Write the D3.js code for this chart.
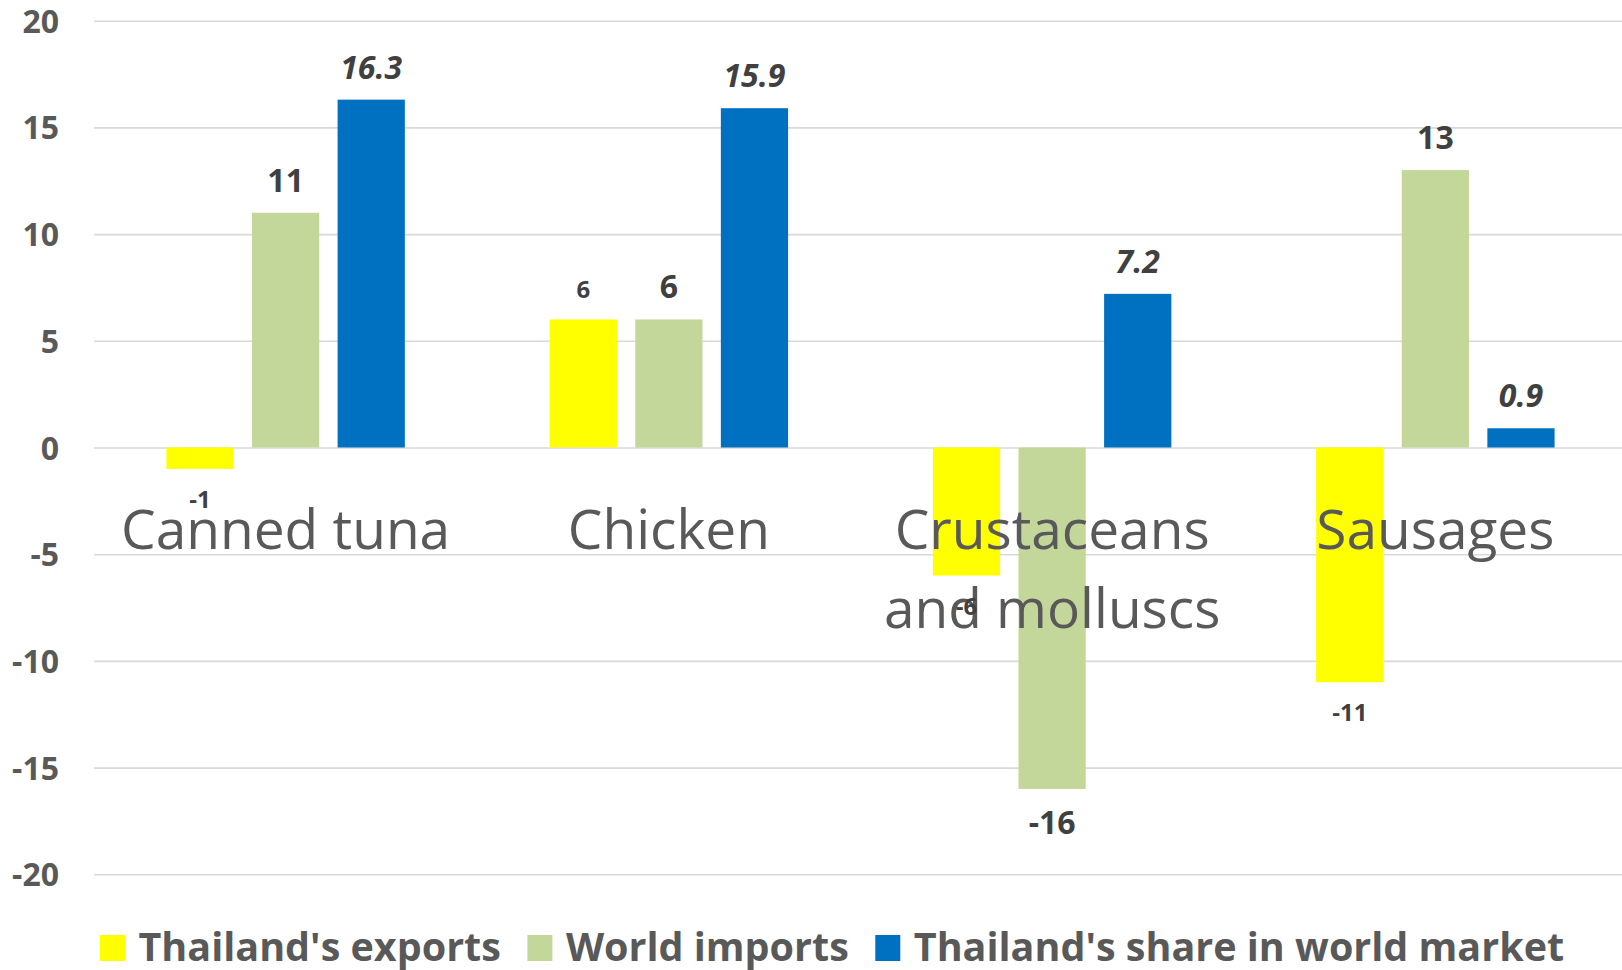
<!DOCTYPE html>
<html>
<head>
<meta charset="utf-8">
<script src="https://cdn.jsdelivr.net/npm/d3@7"></script>
<style>
  html, body { margin: 0; padding: 0; background: #ffffff; }
  svg { display: block; }
</style>
</head>
<body>
<svg id="chart" width="1622" height="970"></svg>
<script>
// Product categories and the three series (percent change)
const categories = ["Canned tuna", "Chicken", "Crustaceans and molluscs", "Sausages"];
const seriesNames = ["Thailand's exports", "World imports", "Thailand's share in world market"];
const thailandExports = [-1, 6, -6, -11];
const worldImports = [11, 6, -16, 13];
const thailandShare = [16.3, 15.9, 7.2, 0.9];
const yTicks = [-20, -15, -10, -5, 0, 5, 10, 15, 20];

const seriesValues = [thailandExports, worldImports, thailandShare];
const colors = ["#FFFF00", "#C4D79B", "#0070C0"];
const labelStyle = [
  { size: 24, italic: false },
  { size: 32, italic: false },
  { size: 32, italic: true }
];

const W = 1622, H = 970;
const plot = { left: 94, right: 1627, top: 20.7, bottom: 874.3 };
const svg = d3.select("#chart");

const y = d3.scaleLinear().domain([-20, 20]).range([plot.bottom, plot.top]);
const x0 = d3.scaleBand().domain(categories).range([plot.left, plot.right]).padding(0);
const x1 = d3.scaleBand().domain(seriesNames).range([0, x0.bandwidth()])
  .paddingInner(0.2145).paddingOuter(0.846);

const FONT = "'Open Sans', 'Noto Sans', sans-serif";

// Horizontal gridlines
const grid = svg.append("g")
  .attr("transform", `translate(${plot.left},0)`)
  .call(d3.axisLeft(y).tickValues(yTicks).tickSize(-(W - plot.left)).tickFormat(""));
grid.select(".domain").remove();
grid.selectAll(".tick line").attr("stroke", "#D9D9D9").attr("stroke-width", 1.6);

// Y-axis tick labels
const yAxis = svg.append("g")
  .attr("transform", `translate(59,0)`)
  .call(d3.axisLeft(y).tickValues(yTicks).tickSize(0).tickPadding(0)
    .tickFormat(d => String(d)));
yAxis.select(".domain").remove();
yAxis.selectAll(".tick text")
  .attr("font-family", FONT)
  .attr("font-weight", "bold")
  .attr("font-size", 32)
  .attr("fill", "#595959")
  .attr("dy", "0.36em");

// Bars
const rows = [];
categories.forEach((c, i) => {
  seriesNames.forEach((s, j) => {
    rows.push({ cat: c, series: s, j, value: seriesValues[j][i] });
  });
});

const bars = svg.append("g");
bars.selectAll("rect")
  .data(rows)
  .join("rect")
  .attr("x", d => x0(d.cat) + x1(d.series))
  .attr("width", x1.bandwidth())
  .attr("y", d => y(Math.max(0, d.value)))
  .attr("height", d => Math.abs(y(d.value) - y(0)))
  .attr("fill", d => colors[d.j]);

// Category labels (wrapped when too wide for the band)
const catG = svg.append("g");
const maxLabelW = 360;
categories.forEach(c => {
  const t = catG.append("text")
    .attr("font-family", FONT)
    .attr("font-size", 55)
    .attr("fill", "#595959")
    .attr("text-anchor", "middle");
  const words = c.split(" ");
  let lines = [], line = [];
  const probe = catG.append("text").attr("font-family", FONT).attr("font-size", 55);
  words.forEach(w => {
    const trial = line.concat(w).join(" ");
    probe.text(trial);
    if (line.length && probe.node().getComputedTextLength() > maxLabelW) {
      lines.push(line.join(" "));
      line = [w];
    } else {
      line.push(w);
    }
  });
  lines.push(line.join(" "));
  probe.remove();
  const cx = x0(c) + x0.bandwidth() / 2;
  lines.forEach((ln, k) => {
    t.append("tspan").attr("x", cx).attr("y", y(0) + 101 + k * 79).text(ln);
  });
});

// Data labels
const labels = svg.append("g");
labels.selectAll("text")
  .data(rows)
  .join("text")
  .attr("x", d => x0(d.cat) + x1(d.series) + x1.bandwidth() / 2)
  .attr("y", d => {
    const st = labelStyle[d.j];
    return d.value >= 0 ? y(d.value) - 21 : y(d.value) + 22 + st.size * 0.714;
  })
  .attr("text-anchor", "middle")
  .attr("font-family", FONT)
  .attr("font-weight", "bold")
  .attr("font-style", d => labelStyle[d.j].italic ? "italic" : "normal")
  .attr("font-size", d => labelStyle[d.j].size)
  .attr("fill", "#404040")
  .text(d => String(d.value));

// Legend
const legend = svg.append("g");
let lx = 100;
seriesNames.forEach((s, j) => {
  legend.append("rect")
    .attr("x", lx).attr("y", 935).attr("width", 25).attr("height", 26)
    .attr("fill", colors[j]);
  const t = legend.append("text")
    .attr("x", lx + 38.5).attr("y", 961)
    .attr("font-family", FONT)
    .attr("font-weight", "bold")
    .attr("font-size", 39.5)
    .attr("fill", "#595959")
    .text(s);
  lx = lx + 38.5 + t.node().getComputedTextLength() + 26.5;
});
</script>
</body>
</html>
